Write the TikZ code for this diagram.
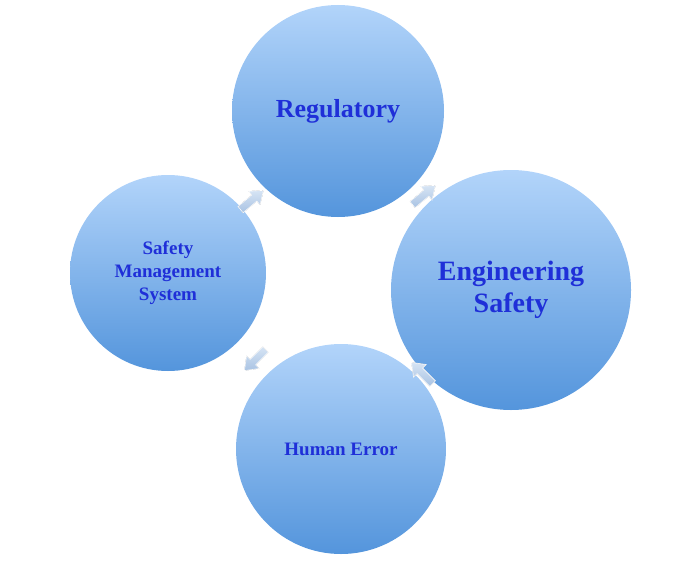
\documentclass[tikz,border=0pt]{standalone}
\usepackage{fontspec}
\setmainfont{Liberation Serif}
\definecolor{txt}{HTML}{1F2FD8}
\definecolor{ctop}{HTML}{B2D4FA}
\definecolor{cbot}{HTML}{5495DC}
\definecolor{atop}{HTML}{D6E4F4}
\definecolor{abot}{HTML}{A9C3E3}
\tikzset{
  ball/.style={circle, top color=ctop, bottom color=cbot, draw=none, align=center, text=txt, font=\bfseries},
  blk/.style={top color=atop, bottom color=abot, draw=white, line width=0.6pt}
}
\begin{document}
\begin{tikzpicture}[x=1pt,y=-1pt]
\useasboundingbox (0,0) rectangle (700,564);
\node[ball, minimum size=212pt, font=\bfseries\fontsize{26}{30}\selectfont] (reg) at (338,111) {Regulatory};
\node[ball, minimum size=240pt, font=\bfseries\fontsize{28}{32}\selectfont] (eng) at (511,290) {Engineering\\Safety};
\node[ball, minimum size=210pt, font=\bfseries\fontsize{19}{22}\selectfont] (hum) at (341,449) {Human Error};
\node[ball, minimum size=196pt, font=\bfseries\fontsize{19}{23}\selectfont] (sms) at (168,273) {Safety\\Management\\System};
\foreach \p/\a in {{(252,200)}/40, {(424,195)}/40, {(422,373)}/135, {(255,360)}/-135}{
  \fill[blk, shift={\p}, rotate=\a] (-15,-4)--(3,-4)--(3,-9)--(15,0)--(3,9)--(3,4)--(-15,4)--cycle;
}
\end{tikzpicture}
\end{document}
